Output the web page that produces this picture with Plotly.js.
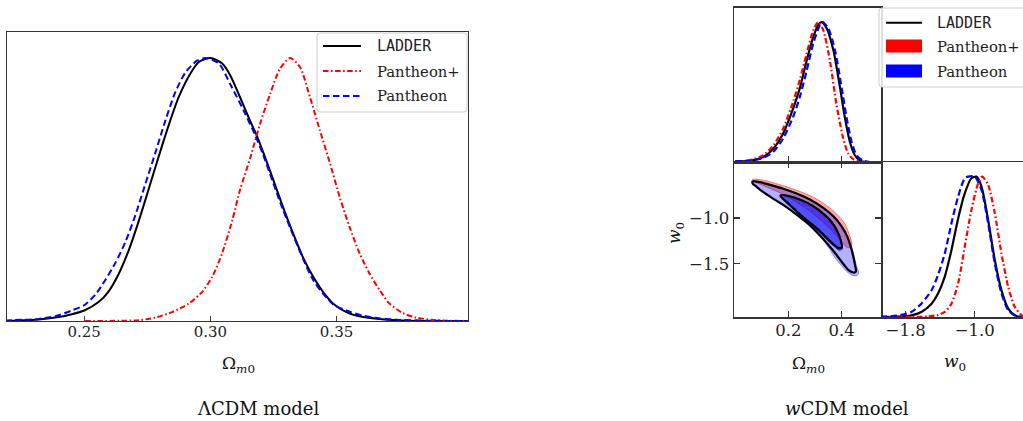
<!DOCTYPE html>
<html>
<head>
<meta charset="utf-8">
<script src="https://cdn.plot.ly/plotly-3.0.1.min.js"></script>
<style>
  html, body { margin: 0; padding: 0; background: #ffffff; }
  #chart { width: 1023px; height: 421px; }
</style>
</head>
<body>
<div id="chart"></div>
<script>
// ---------- ΛCDM: marginalised posterior of Ωm0 (normalised to peak = 1) ----------
const lcdmLadderOm = [0.2186, 0.2319, 0.2385, 0.2451, 0.2500, 0.2557, 0.2597, 0.2636, 0.2676, 0.2716, 0.2755, 0.2795, 0.2835, 0.2874, 0.2914, 0.2954, 0.3000, 0.3046, 0.3079, 0.3118, 0.3158, 0.3184, 0.3210, 0.3250, 0.3289, 0.3329, 0.3368, 0.3408, 0.3447, 0.3487, 0.3539, 0.3605, 0.3671, 0.3737, 0.3868, 0.4020];
const lcdmLadderP  = [0.000, 0.006, 0.013, 0.026, 0.040, 0.072, 0.113, 0.178, 0.268, 0.380, 0.500, 0.625, 0.745, 0.850, 0.930, 0.985, 1.000, 0.980, 0.934, 0.850, 0.760, 0.705, 0.640, 0.535, 0.430, 0.330, 0.240, 0.167, 0.110, 0.066, 0.034, 0.015, 0.008, 0.003, 0.000, 0.000];

const lcdmPplusOm = [0.2504, 0.2716, 0.2782, 0.2848, 0.2914, 0.2967, 0.3007, 0.3046, 0.3086, 0.3118, 0.3158, 0.3197, 0.3237, 0.3276, 0.3316, 0.3355, 0.3395, 0.3434, 0.3474, 0.3513, 0.3552, 0.3592, 0.3631, 0.3671, 0.3710, 0.3763, 0.3815, 0.3894, 0.4020];
const lcdmPplusP  = [0.000, 0.003, 0.013, 0.034, 0.066, 0.110, 0.167, 0.256, 0.380, 0.500, 0.620, 0.750, 0.864, 0.960, 1.000, 0.966, 0.850, 0.725, 0.600, 0.470, 0.357, 0.256, 0.180, 0.117, 0.066, 0.030, 0.013, 0.003, 0.000];

const lcdmPanOm = [0.2186, 0.2319, 0.2385, 0.2451, 0.2500, 0.2544, 0.2583, 0.2623, 0.2663, 0.2702, 0.2742, 0.2782, 0.2821, 0.2861, 0.2901, 0.2947, 0.2980, 0.3033, 0.3079, 0.3132, 0.3178, 0.3210, 0.3289, 0.3408, 0.3487, 0.3539, 0.3605, 0.3671, 0.3737, 0.3868, 0.4020];
const lcdmPanP  = [0.002, 0.008, 0.018, 0.040, 0.060, 0.100, 0.155, 0.220, 0.300, 0.400, 0.520, 0.640, 0.760, 0.870, 0.945, 0.990, 1.000, 0.980, 0.900, 0.800, 0.706, 0.630, 0.420, 0.155, 0.063, 0.040, 0.020, 0.010, 0.005, 0.001, 0.000];

// ---------- wCDM: marginalised posterior of Ωm0 ----------
const wcdmLadderOm = [0.000, 0.056, 0.106, 0.144, 0.181, 0.219, 0.244, 0.269, 0.294, 0.3125, 0.325, 0.344, 0.369, 0.394, 0.4125, 0.431, 0.450, 0.469, 0.494, 0.548];
const wcdmLadderP  = [0.004, 0.010, 0.036, 0.097, 0.206, 0.387, 0.533, 0.726, 0.896, 0.980, 1.000, 0.956, 0.800, 0.533, 0.315, 0.145, 0.048, 0.010, 0.000, 0.000];

const wcdmPplusOm = [0.000, 0.056, 0.106, 0.144, 0.181, 0.219, 0.244, 0.269, 0.294, 0.3125, 0.331, 0.356, 0.381, 0.406, 0.425, 0.444, 0.469, 0.548];
const wcdmPplusP  = [0.000, 0.012, 0.048, 0.120, 0.240, 0.436, 0.593, 0.775, 0.944, 1.000, 0.944, 0.726, 0.410, 0.170, 0.060, 0.020, 0.000, 0.000];

const wcdmPanOm = [0.000, 0.056, 0.106, 0.144, 0.181, 0.219, 0.244, 0.269, 0.294, 0.319, 0.329, 0.350, 0.375, 0.400, 0.419, 0.4375, 0.456, 0.481, 0.506, 0.548];
const wcdmPanP  = [0.005, 0.010, 0.030, 0.073, 0.170, 0.327, 0.470, 0.654, 0.850, 0.980, 1.000, 0.956, 0.800, 0.533, 0.315, 0.145, 0.048, 0.010, 0.000, 0.000];

// ---------- wCDM: marginalised posterior of w0 ----------
const wLadderW = [-2.09, -1.889, -1.734, -1.618, -1.500, -1.425, -1.348, -1.270, -1.193, -1.116, -1.039, -0.981, -0.923, -0.845, -0.768, -0.691, -0.613, -0.536, -0.459];
const wLadderP = [0.000, 0.002, 0.012, 0.036, 0.095, 0.167, 0.286, 0.476, 0.700, 0.880, 0.988, 1.000, 0.930, 0.690, 0.405, 0.190, 0.060, 0.012, 0.000];

const wPplusW = [-2.09, -1.734, -1.541, -1.425, -1.348, -1.270, -1.193, -1.116, -1.039, -0.961, -0.915, -0.845, -0.768, -0.691, -0.613, -0.536, -0.459, -0.440];
const wPplusP = [0.000, 0.000, 0.005, 0.014, 0.036, 0.095, 0.238, 0.500, 0.762, 0.952, 1.000, 0.940, 0.738, 0.452, 0.214, 0.071, 0.012, 0.000];

const wPanW = [-2.09, -1.889, -1.734, -1.618, -1.500, -1.425, -1.348, -1.270, -1.193, -1.116, -1.077, -1.000, -0.923, -0.845, -0.768, -0.691, -0.613, -0.536, -0.459];
const wPanP = [0.002, 0.010, 0.036, 0.095, 0.190, 0.300, 0.450, 0.667, 0.857, 0.988, 1.000, 1.000, 0.905, 0.667, 0.380, 0.167, 0.048, 0.010, 0.000];

// ---------- wCDM: joint (Ωm0, w0) credible regions ----------
const ladder95Om = [0.066, 0.094, 0.131, 0.181, 0.231, 0.281, 0.331, 0.369, 0.400, 0.421, 0.434, 0.444, 0.451, 0.454, 0.444, 0.425, 0.406, 0.381, 0.350, 0.3125, 0.275, 0.231, 0.1875, 0.144, 0.106, 0.081, 0.066, 0.066];
const ladder95W  = [-0.602, -0.609, -0.639, -0.682, -0.734, -0.799, -0.890, -0.982, -1.091, -1.201, -1.310, -1.420, -1.522, -1.584, -1.595, -1.566, -1.500, -1.402, -1.292, -1.172, -1.066, -0.964, -0.872, -0.792, -0.719, -0.661, -0.624, -0.602];
const ladder68Om = [0.171, 0.206, 0.250, 0.294, 0.331, 0.3625, 0.384, 0.396, 0.401, 0.389, 0.371, 0.346, 0.3125, 0.275, 0.2375, 0.204, 0.179, 0.171, 0.171];
const ladder68W  = [-0.752, -0.763, -0.807, -0.872, -0.953, -1.044, -1.146, -1.237, -1.318, -1.329, -1.292, -1.223, -1.128, -1.037, -0.945, -0.854, -0.788, -0.763, -0.752];

const pan95Om = [0.066, 0.094, 0.131, 0.181, 0.231, 0.281, 0.331, 0.369, 0.400, 0.421, 0.436, 0.4475, 0.456, 0.464, 0.456, 0.4375, 0.419, 0.400, 0.375, 0.350, 0.3125, 0.275, 0.231, 0.1875, 0.144, 0.106, 0.081, 0.066, 0.066];
const pan95W  = [-0.595, -0.606, -0.635, -0.679, -0.730, -0.796, -0.887, -0.974, -1.084, -1.193, -1.303, -1.420, -1.522, -1.602, -1.631, -1.621, -1.584, -1.522, -1.434, -1.318, -1.179, -1.069, -0.967, -0.876, -0.796, -0.723, -0.664, -0.628, -0.595];
const pan68Om = [0.171, 0.206, 0.250, 0.294, 0.331, 0.3625, 0.384, 0.3975, 0.404, 0.391, 0.371, 0.344, 0.309, 0.2725, 0.235, 0.201, 0.1775, 0.171, 0.171];
const pan68W  = [-0.759, -0.770, -0.814, -0.880, -0.964, -1.055, -1.157, -1.256, -1.339, -1.354, -1.310, -1.237, -1.142, -1.047, -0.953, -0.861, -0.796, -0.770, -0.759];

const pplus95Om = [0.066, 0.106, 0.169, 0.231, 0.294, 0.344, 0.381, 0.4125, 0.429, 0.439, 0.434, 0.419, 0.394, 0.3625, 0.325, 0.281, 0.231, 0.169, 0.106, 0.071, 0.066];
const pplus95W  = [-0.580, -0.588, -0.639, -0.697, -0.774, -0.865, -0.956, -1.066, -1.183, -1.292, -1.321, -1.318, -1.237, -1.135, -1.033, -0.927, -0.828, -0.726, -0.646, -0.602, -0.580];

// ---------- tick labels ----------
const lcdmTicks = [0.25, 0.30, 0.35];
const omTicks = [0.2, 0.4];
const wTicksY = [-1.0, -1.5];
const wTicksX = [-1.8, -1.0];

// ---------- styling ----------
const W = 1023, H = 421;
const fx = p => p / W;          // pixel column -> paper x
const fy = p => 1 - p / H;      // pixel row    -> paper y
const SERIF = 'DejaVu Serif';
const MONO = 'DejaVu Sans Mono';
const BLACK = '#000000', RED = '#ff0000', BLUE = '#0000ff';
const DASHDOT = '5.5px,2.5px,1.6px,2.5px';
const DASHED = '6.5px,3.5px';

function curve(x, y, xa, ya, color, width, dash) {
  return { x, y, xaxis: xa, yaxis: ya, type: 'scatter', mode: 'lines', hoverinfo: 'skip',
           line: { color, width, dash: dash || 'solid', shape: 'spline', smoothing: 0.7 } };
}
function region(x, y, fill, edge, edgeW) {
  return { x, y, xaxis: 'x3', yaxis: 'y3', type: 'scatter', mode: 'lines', fill: 'toself',
           fillcolor: fill, hoverinfo: 'skip',
           line: { color: edge, width: edgeW, shape: 'spline', smoothing: 0.8 } };
}

const traces = [
  // ΛCDM panel
  curve(lcdmLadderOm, lcdmLadderP, 'x', 'y', BLACK, 2),
  curve(lcdmPplusOm, lcdmPplusP, 'x', 'y', RED, 2, DASHDOT),
  curve(lcdmPanOm, lcdmPanP, 'x', 'y', BLUE, 2, DASHED),
  // wCDM: Ωm0 marginal
  curve(wcdmLadderOm, wcdmLadderP, 'x2', 'y2', BLACK, 2.2),
  curve(wcdmPplusOm, wcdmPplusP, 'x2', 'y2', RED, 2.2, DASHDOT),
  curve(wcdmPanOm, wcdmPanP, 'x2', 'y2', BLUE, 2.2, DASHED),
  // wCDM: joint credible regions
  region(pplus95Om, pplus95W, 'rgba(255,0,0,0.33)', 'rgba(255,60,60,0.85)', 0.8),
  region(pan95Om, pan95W, 'rgba(0,0,255,0.30)', 'rgba(0,0,255,0.45)', 0.8),
  region(pan68Om, pan68W, 'rgba(0,0,255,0.55)', 'rgba(0,0,255,0.6)', 0.8),
  curve(ladder95Om, ladder95W, 'x3', 'y3', BLACK, 2.2),
  curve(ladder68Om, ladder68W, 'x3', 'y3', BLACK, 2.2),
  // wCDM: w0 marginal
  curve(wLadderW, wLadderP, 'x4', 'y4', BLACK, 2.2),
  curve(wPplusW, wPplusP, 'x4', 'y4', RED, 2.2, DASHDOT),
  curve(wPanW, wPanP, 'x4', 'y4', BLUE, 2.2, DASHED)
];

const frame = { showline: true, linecolor: '#333333', showgrid: false, zeroline: false, fixedrange: true };
const tickFontL = { family: SERIF, size: 15, color: '#222222' };
const tickFontR = { family: SERIF, size: 16.5, color: '#222222' };

const layout = {
  width: W, height: H,
  margin: { l: 0, r: 0, t: 0, b: 0 },
  paper_bgcolor: '#ffffff', plot_bgcolor: 'rgba(0,0,0,0)',
  showlegend: false,
  // ΛCDM panel
  xaxis: Object.assign({}, frame, { domain: [fx(7), fx(468)], range: [0.2194, 0.4021], anchor: 'y',
          mirror: true, linewidth: 1, ticks: 'inside', ticklen: 5, tickwidth: 1, tickcolor: '#444444',
          tickvals: lcdmTicks, tickformat: '.2f', tickfont: tickFontL, ticklabelstandoff: -3 }),
  yaxis: Object.assign({}, frame, { domain: [fy(321), fy(32)], range: [0, 1.099], anchor: 'x',
          mirror: true, linewidth: 1, ticks: '', showticklabels: false }),
  // wCDM, Ωm0 marginal
  xaxis2: Object.assign({}, frame, { domain: [fx(734), fx(881)], range: [-0.004, 0.548], anchor: 'y2',
          mirror: true, linewidth: 1.5, ticks: 'inside', ticklen: 6, tickwidth: 1.2, tickcolor: '#333333',
          tickvals: omTicks, showticklabels: false }),
  yaxis2: Object.assign({}, frame, { domain: [fy(162), fy(7.5)], range: [0, 1.104], anchor: 'x2',
          mirror: true, linewidth: 1.5, ticks: '', showticklabels: false }),
  // wCDM, joint
  xaxis3: Object.assign({}, frame, { domain: [fx(734), fx(881)], range: [-0.004, 0.548], anchor: 'y3',
          mirror: 'ticks', linewidth: 1.5, ticks: 'inside', ticklen: 6, tickwidth: 1.2, tickcolor: '#333333',
          tickvals: omTicks, tickformat: '.1f', tickfont: tickFontR, ticklabelstandoff: -2 }),
  yaxis3: Object.assign({}, frame, { domain: [fy(317), fy(162)], range: [-2.08, -0.39], anchor: 'x3',
          mirror: 'ticks', linewidth: 1.5, ticks: 'inside', ticklen: 6, tickwidth: 1.2, tickcolor: '#333333',
          tickvals: wTicksY, tickformat: '.1f', tickfont: tickFontR }),
  // wCDM, w0 marginal
  xaxis4: Object.assign({}, frame, { domain: [fx(881), 1], range: [-2.085, -0.442], anchor: 'y4',
          mirror: true, linewidth: 1.5, ticks: 'inside', ticklen: 6, tickwidth: 1.2, tickcolor: '#333333',
          tickvals: wTicksX, tickformat: '.1f', tickfont: tickFontR, ticklabelstandoff: -2 }),
  yaxis4: Object.assign({}, frame, { domain: [fy(317), fy(162)], range: [0, 1.104], anchor: 'x4',
          showline: false, ticks: '', showticklabels: false })
};

// Legend boxes and their samples
function roundedBox(x0, y0, x1, y1, r) {
  return [
    'M' + fx(x0 + r) + ',' + fy(y0),
    'L' + fx(x1 - r) + ',' + fy(y0),
    'Q' + fx(x1) + ',' + fy(y0) + ' ' + fx(x1) + ',' + fy(y0 + r),
    'L' + fx(x1) + ',' + fy(y1 - r),
    'Q' + fx(x1) + ',' + fy(y1) + ' ' + fx(x1 - r) + ',' + fy(y1),
    'L' + fx(x0 + r) + ',' + fy(y1),
    'Q' + fx(x0) + ',' + fy(y1) + ' ' + fx(x0) + ',' + fy(y1 - r),
    'L' + fx(x0) + ',' + fy(y0 + r),
    'Q' + fx(x0) + ',' + fy(y0) + ' ' + fx(x0 + r) + ',' + fy(y0),
    'Z'].join(' ');
}
function sampleLine(x0, x1, y, color, dash) {
  return { type: 'line', xref: 'paper', yref: 'paper', layer: 'above',
           x0: fx(x0), x1: fx(x1), y0: fy(y), y1: fy(y),
           line: { color, width: 2, dash: dash || 'solid' } };
}
function samplePatch(x0, x1, y0, y1, color) {
  return { type: 'rect', xref: 'paper', yref: 'paper', layer: 'above',
           x0: fx(x0), x1: fx(x1), y0: fy(y0), y1: fy(y1),
           fillcolor: color, line: { width: 0 } };
}
const boxStyle = { type: 'path', xref: 'paper', yref: 'paper', layer: 'above',
                   fillcolor: 'rgba(255,255,255,0.85)', line: { color: '#cccccc', width: 1 } };

layout.shapes = [
  Object.assign({}, boxStyle, { path: roundedBox(317, 33, 467, 112, 3) }),
  sampleLine(323, 361, 46, BLACK),
  sampleLine(323, 361, 71, RED, DASHDOT),
  sampleLine(323, 361, 96, BLUE, DASHED),
  Object.assign({}, boxStyle, { path: roundedBox(879, 8, 1035, 87, 3) }),
  sampleLine(886, 922, 22.7, BLACK),
  samplePatch(886, 922, 39.5, 52.5, RED),
  samplePatch(886, 922, 64.5, 77.5, BLUE)
];

function label(text, x, y, font, opts) {
  return Object.assign({ text, xref: 'paper', yref: 'paper', x: fx(x), y: fy(y),
                         xanchor: 'center', yanchor: 'middle', showarrow: false, font }, opts || {});
}
const legendFont = { family: SERIF, size: 14.8, color: '#222222' };
const legendMono = { family: MONO, size: 15, color: '#222222' };
const axisFont = { family: SERIF, size: 17, color: '#111111' };
const captionFont = { family: SERIF, size: 18, color: '#111111' };

layout.annotations = [
  // legend entries
  label('LADDER', 375, 46, legendMono, { xanchor: 'left' }),
  label('Pantheon+', 375, 71, legendFont, { xanchor: 'left' }),
  label('Pantheon', 375, 96, legendFont, { xanchor: 'left' }),
  label('LADDER', 935, 22.7, legendMono, { xanchor: 'left' }),
  label('Pantheon+', 935, 46, legendFont, { xanchor: 'left' }),
  label('Pantheon', 935, 71, legendFont, { xanchor: 'left' }),
  // axis labels
  label('Ω<sub><i>m</i>0</sub>', 238, 364, axisFont),
  label('Ω<sub><i>m</i>0</sub>', 808, 364, axisFont),
  label('<i>w</i><sub>0</sub>', 955, 362, axisFont),
  label('<i>w</i><sub>0</sub>', 676, 233, axisFont, { textangle: -90 }),
  // panel captions
  label('ΛCDM model', 258, 408, captionFont),
  label('<i>w</i>CDM model', 847, 408, captionFont)
];

Plotly.newPlot('chart', traces, layout, { staticPlot: true, displayModeBar: false });
</script>
</body>
</html>
